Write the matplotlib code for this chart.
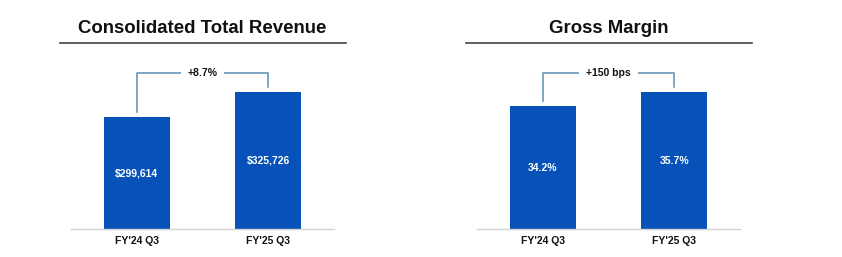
import numpy as np
import matplotlib
matplotlib.use("Agg")
import matplotlib.pyplot as plt
from matplotlib.lines import Line2D

plt.rcParams["font.family"] = ["Liberation Sans", "DejaVu Sans"]

# data
periods = ["FY'24 Q3", "FY'25 Q3"]
revenue = [299614, 325726]
revenue_labels = ["$299,614", "$325,726"]
revenue_change = "+8.7%"
margin = [34.2, 35.7]
margin_labels = ["34.2%", "35.7%"]
margin_change = "+150 bps"

bar_color = "#0752B8"
bracket_color = "#5A8DB3"
text_color = "#111111"

fig = plt.figure(figsize=(8.42, 2.57), dpi=100)


def draw_panel(left, title, values, labels, change, ylim, pad_box):
    ax = fig.add_axes([left / 842, 28 / 257, 263 / 842, 169 / 257])
    x = np.arange(len(values))
    ax.bar(x, values, width=0.5, color=bar_color, zorder=2)
    ax.set_xlim(-0.5, 1.5)
    ax.set_ylim(*ylim)
    for side in ["top", "right", "left"]:
        ax.spines[side].set_visible(False)
    ax.spines["bottom"].set_color("#D3D3D3")
    ax.spines["bottom"].set_linewidth(1.0)
    ax.set_yticks([])
    ax.set_xticks(x)
    ax.set_xticklabels(periods, fontsize=7.5, fontweight="bold", color=text_color)
    ax.tick_params(axis="x", length=0, pad=5)

    # value labels in the middle of the bars
    for xi, v, lab in zip(x, values, labels):
        ax.text(xi, (ylim[0] + v) / 2, lab, ha="center", va="center",
                fontsize=7.5, fontweight="bold", color="white")

    # bracket above the bars
    span = ylim[1] - ylim[0]
    top_frac = 156 / 169
    gap = 5 / 169
    tr = ax.get_xaxis_transform()
    f0 = (values[0] - ylim[0]) / span + gap
    f1 = (values[1] - ylim[0]) / span + gap
    ax.plot([x[0], x[0], x[1], x[1]], [f0, top_frac, top_frac, f1],
            transform=tr, color=bracket_color, lw=1.1, clip_on=False, zorder=1)
    ax.text((x[0] + x[1]) / 2, top_frac, change, transform=tr, ha="center", va="center",
            fontsize=7.5, fontweight="bold", color=text_color, zorder=3,
            bbox=dict(boxstyle="square,pad=%.2f" % pad_box, fc="white", ec="none"))

    # title and underline
    cx = (left + 131.5) / 842
    fig.text(cx, 1 - 28 / 257, title, ha="center", va="center",
             fontsize=13.4, fontweight="bold", color=text_color)
    fig.add_artist(Line2D([(left - 11) / 842, (left + 275) / 842], [1 - 43 / 257] * 2,
                          transform=fig.transFigure, color="#444444", lw=1.2))
    return ax


draw_panel(71, "Consolidated Total Revenue", revenue, revenue_labels, revenue_change,
           (182634, 359151), 0.65)
draw_panel(477, "Gross Margin", margin, margin_labels, margin_change,
           (21.02, 39.13), 0.7)

fig.savefig("out.png", dpi=100)
